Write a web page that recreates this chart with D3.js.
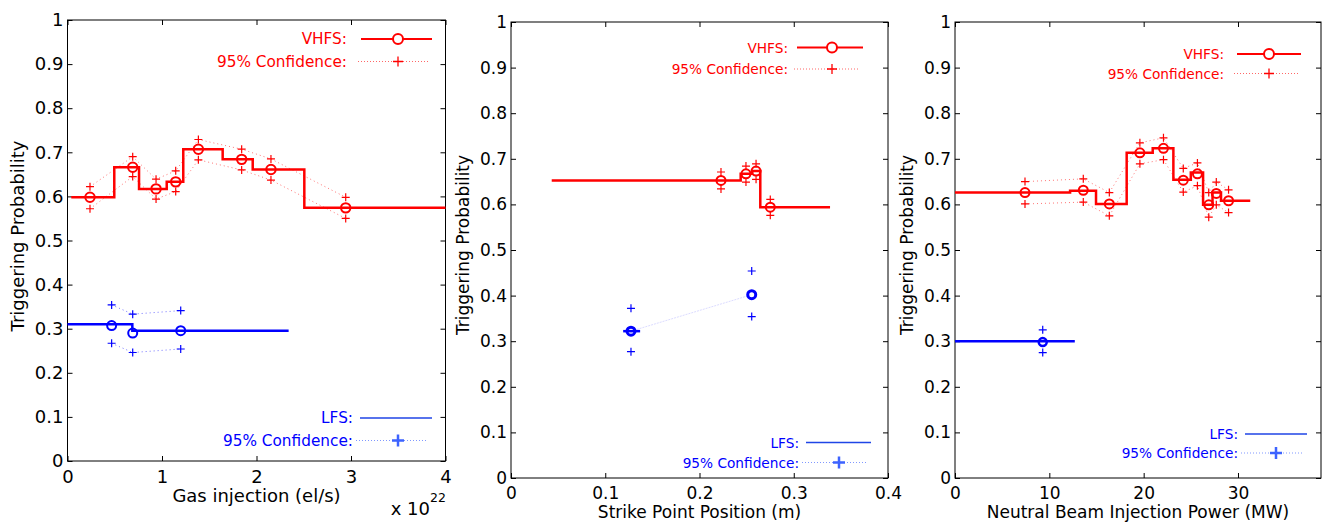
<!DOCTYPE html>
<html>
<head>
<meta charset="utf-8">
<script src="https://cdn.jsdelivr.net/npm/d3@7"></script>
<style>
body { margin: 0; background: #fff; }
svg { font-family: "DejaVu Sans", sans-serif; }
</style>
</head>
<body>
<script>
// ---- panel 1: gas injection (x in units of 1e22 el/s)
var gasStepX = [0.04, 0.495, 0.757, 1.05, 1.225, 1.642, 1.96, 2.506, 4.0];
var gasStepY = [0.598, 0.666, 0.617, 0.633, 0.707, 0.684, 0.661, 0.574];
var gasX  = [0.238, 0.69, 0.937, 1.145, 1.385, 1.843, 2.153, 2.944];
var gasP  = [0.598, 0.666, 0.617, 0.633, 0.707, 0.684, 0.661, 0.574];
var gasHi = [0.622, 0.690, 0.639, 0.658, 0.729, 0.707, 0.685, 0.598];
var gasLo = [0.572, 0.645, 0.594, 0.611, 0.683, 0.660, 0.637, 0.550];
var gasLfsStepX = [0, 0.686, 2.34];
var gasLfsStepY = [0.31, 0.2955];
var gasLfsX  = [0.467, 0.69, 1.198];
var gasLfsP  = [0.307, 0.29, 0.2955];
var gasLfsHi = [0.354, 0.333, 0.341];
var gasLfsLo = [0.267, 0.246, 0.254];

// ---- panel 2: strike point position (m)
var spStepX = [0.0432, 0.2437, 0.256, 0.2645, 0.3385];
var spStepY = [0.6525, 0.667, 0.673, 0.594];
var spX  = [0.2228, 0.2493, 0.26, 0.2751];
var spP  = [0.6525, 0.667, 0.673, 0.594];
var spHi = [0.671, 0.684, 0.689, 0.611];
var spLo = [0.634, 0.649, 0.655, 0.576];
var spLfsStepX = [0.119, 0.137];
var spLfsStepY = [0.322];
var spLfsX  = [0.1273, 0.2554];
var spLfsP  = [0.322, 0.402];
var spLfsHi = [0.372, 0.454];
var spLfsLo = [0.277, 0.354];

// ---- panel 3: neutral beam injection power (MW)
var nbStepX = [0, 12.2, 14.95, 18.2, 20.96, 23.15, 25.0, 26.3, 27.3, 28.2, 31.3];
var nbStepY = [0.626, 0.630, 0.601, 0.713, 0.723, 0.654, 0.670, 0.599, 0.626, 0.608];
var nbX  = [7.42, 13.6, 16.36, 19.6, 22.1, 24.2, 25.7, 26.9, 27.7, 29.0];
var nbP  = [0.626, 0.631, 0.601, 0.713, 0.723, 0.653, 0.667, 0.599, 0.624, 0.608];
var nbHi = [0.650, 0.656, 0.626, 0.735, 0.746, 0.679, 0.691, 0.626, 0.649, 0.632];
var nbLo = [0.601, 0.605, 0.575, 0.689, 0.698, 0.627, 0.641, 0.572, 0.599, 0.582];
var nbLfsStepX = [0, 12.7];
var nbLfsStepY = [0.3];
var nbLfsX  = [9.3];
var nbLfsP  = [0.298];
var nbLfsHi = [0.325];
var nbLfsLo = [0.275];

var yTicks = d3.range(0, 1.0001, 0.1);
var gasTicks = [0, 1, 2, 3, 4];
var spTicks = [0, 0.1, 0.2, 0.3, 0.4];
var nbTicks = [0, 10, 20, 30];

var RED = "#ff0000", BLUE = "#0000ff";

var svg = d3.select("body").append("svg").attr("width", 1325).attr("height", 522);

function zip(xs, ys) { return xs.map(function(x, i) { return [x, ys[i]]; }); }

function drawPanel(cfg) {
  var x = d3.scaleLinear().domain(cfg.xdom).range([cfg.left, cfg.right]);
  var y = d3.scaleLinear().domain([0, 1]).range([cfg.bottom, cfg.top]);
  var g = svg.append("g");
  var fs = cfg.fs, lfs = cfg.lfs;

  var fmtY = function(d) { return d3.format("~g")(+d.toFixed(1)); };
  var ax = [
    [d3.axisLeft(y).tickValues(yTicks).tickFormat(fmtY).tickPadding(4), cfg.left, 0],
    [d3.axisRight(y).tickValues(yTicks).tickFormat(""), cfg.right, 0],
    [d3.axisBottom(x).tickValues(cfg.xticks).tickFormat(cfg.xfmt).tickPadding(9), 0, cfg.bottom],
    [d3.axisTop(x).tickValues(cfg.xticks).tickFormat(""), 0, cfg.top]
  ];
  ax.forEach(function(a) {
    var s = g.append("g").attr("transform", "translate(" + a[1] + "," + a[2] + ")")
      .call(a[0].tickSizeInner(-5).tickSizeOuter(0));
    s.select(".domain").remove();
    s.selectAll(".tick line").attr("stroke", "#000");
    s.selectAll(".tick text").attr("font-size", fs).attr("fill", "#000")
      .attr("font-family", "DejaVu Sans");
  });
  g.append("rect").attr("x", cfg.left).attr("y", cfg.top)
    .attr("width", cfg.right - cfg.left).attr("height", cfg.bottom - cfg.top)
    .attr("fill", "none").attr("stroke", "#000").attr("stroke-width", 1);

  g.append("text").attr("transform", "translate(" + cfg.ylabX + "," + cfg.ylabY + ") rotate(-90)")
    .attr("text-anchor", "middle").attr("font-size", fs).text("Triggering Probability");
  g.append("text").attr("x", (cfg.left + cfg.right) / 2).attr("y", cfg.xlabY)
    .attr("text-anchor", "middle").attr("font-size", fs).text(cfg.xlabel);

  var line = d3.line().x(function(d) { return x(d[0]); }).y(function(d) { return y(d[1]); });
  var stairs = d3.line().x(function(d) { return x(d[0]); }).y(function(d) { return y(d[1]); })
    .curve(d3.curveStepAfter);
  var plus = "M-4,0H4M0,-4V4";

  cfg.series.forEach(function(s) {
    if (s.dotted) {
      [s.hi, s.lo].forEach(function(v) {
        g.append("path").attr("d", line(zip(s.x, v))).attr("fill", "none")
          .attr("stroke", s.color).attr("stroke-opacity", 0.55).attr("stroke-width", 1)
          .attr("stroke-dasharray", "1,3");
      });
    }
    if (s.faint) {
      g.append("path").attr("d", line(zip(s.x, s.p))).attr("fill", "none")
        .attr("stroke", "#dcdcff").attr("stroke-width", 1).attr("stroke-dasharray", "2,1");
    }
    var pts = zip(s.stepX.slice(0, s.stepY.length), s.stepY);
    pts.push([s.stepX[s.stepX.length - 1], s.stepY[s.stepY.length - 1]]);
    g.append("path").attr("d", stairs(pts)).attr("fill", "none")
      .attr("stroke", s.color).attr("stroke-width", 2.5);
    g.selectAll(null).data(zip(s.x, s.hi).concat(zip(s.x, s.lo))).enter().append("path")
      .attr("d", plus).attr("transform", function(d) { return "translate(" + x(d[0]) + "," + y(d[1]) + ")"; })
      .attr("stroke", s.color).attr("stroke-width", 1.2).attr("fill", "none");
    g.selectAll(null).data(zip(s.x, s.p)).enter().append("circle")
      .attr("cx", function(d) { return x(d[0]); }).attr("cy", function(d) { return y(d[1]); })
      .attr("r", s.r).attr("fill", "none").attr("stroke", s.color).attr("stroke-width", s.sw);
  });

  // legends
  var L = cfg.legV;
  g.append("text").attr("x", L.tx).attr("y", L.y1 + 5).attr("text-anchor", "end")
    .attr("font-size", lfs).attr("fill", RED).text("VHFS:");
  g.append("line").attr("x1", L.l0).attr("x2", L.l1).attr("y1", L.y1).attr("y2", L.y1)
    .attr("stroke", RED).attr("stroke-width", 2);
  g.append("circle").attr("cx", L.m).attr("cy", L.y1).attr("r", 5).attr("fill", "#fff")
    .attr("stroke", RED).attr("stroke-width", 2);
  g.append("text").attr("x", L.tx).attr("y", L.y2 + 5).attr("text-anchor", "end")
    .attr("font-size", lfs).attr("fill", RED).text("95% Confidence:");
  g.append("line").attr("x1", L.l0 - 3).attr("x2", L.l1 - 3).attr("y1", L.y2).attr("y2", L.y2)
    .attr("stroke", RED).attr("stroke-opacity", 0.6).attr("stroke-width", 1).attr("stroke-dasharray", "1,2");
  g.append("path").attr("d", "M-5,0H5M0,-5V5").attr("transform", "translate(" + L.m + "," + L.y2 + ")")
    .attr("stroke", RED).attr("stroke-width", 1.3);

  var B = cfg.legL;
  g.append("text").attr("x", B.tx).attr("y", B.y1 + 5).attr("text-anchor", "end")
    .attr("font-size", lfs).attr("fill", BLUE).text("LFS:");
  g.append("line").attr("x1", B.l0).attr("x2", B.l1).attr("y1", B.y1).attr("y2", B.y1)
    .attr("stroke", "#1f45e6").attr("stroke-width", 1.6);
  g.append("text").attr("x", B.tx).attr("y", B.y2 + 5).attr("text-anchor", "end")
    .attr("font-size", lfs).attr("fill", BLUE).text("95% Confidence:");
  g.append("line").attr("x1", B.l0 - 4).attr("x2", B.l1 - 4).attr("y1", B.y2).attr("y2", B.y2)
    .attr("stroke", "#4a6cff").attr("stroke-opacity", 0.7).attr("stroke-width", 1).attr("stroke-dasharray", "1,2");
  g.append("path").attr("d", "M-6,0H6M0,-6V6").attr("transform", "translate(" + B.m + "," + B.y2 + ")")
    .attr("stroke", "#3d63ff").attr("stroke-width", 2.5);

  return g;
}

var g1 = drawPanel({
  left: 67.5, right: 445.5, top: 20, bottom: 461, xdom: [0, 4], xticks: gasTicks, fs: 18, lfs: 15.3,
  xfmt: d3.format("d"), xlabel: "Gas injection (el/s)", xlabY: 502, ylabX: 24, ylabY: 236,
  legV: { tx: 347, l0: 361, l1: 432, m: 398, y1: 39, y2: 61.5 },
  legL: { tx: 353, l0: 360, l1: 432, m: 398, y1: 418, y2: 440.5 },
  series: [
    { stepX: gasStepX, stepY: gasStepY, x: gasX, p: gasP, hi: gasHi, lo: gasLo, color: RED, r: 4.7, sw: 2, dotted: true },
    { stepX: gasLfsStepX, stepY: gasLfsStepY, x: gasLfsX, p: gasLfsP, hi: gasLfsHi, lo: gasLfsLo, color: BLUE, r: 4.5, sw: 2, dotted: true }
  ]
});
g1.append("text").attr("x", 430).attr("y", 515).attr("text-anchor", "end").attr("font-size", 18).text("x 10");
g1.append("text").attr("x", 430).attr("y", 502).attr("font-size", 12.5).text("22");

drawPanel({
  left: 511, right: 888, top: 22, bottom: 478, xdom: [0, 0.4], xticks: spTicks, fs: 17, lfs: 13.7,
  xfmt: function(d) { return d3.format("~g")(d); }, xlabel: "Strike Point Position (m)", xlabY: 518, ylabX: 469, ylabY: 245,
  legV: { tx: 788, l0: 797, l1: 863, m: 832, y1: 47.5, y2: 69 },
  legL: { tx: 799, l0: 806, l1: 871, m: 839, y1: 442.5, y2: 462.5 },
  series: [
    { stepX: spStepX, stepY: spStepY, x: spX, p: spP, hi: spHi, lo: spLo, color: RED, r: 4.5, sw: 2, dotted: false },
    { stepX: spLfsStepX, stepY: spLfsStepY, x: spLfsX, p: spLfsP, hi: spLfsHi, lo: spLfsLo, color: BLUE, r: 4, sw: 3, dotted: false, faint: true }
  ]
});

drawPanel({
  left: 955, right: 1321, top: 22, bottom: 478, xdom: [0, 38.8], xticks: nbTicks, fs: 17, lfs: 13.7,
  xfmt: d3.format("d"), xlabel: "Neutral Beam Injection Power  (MW)", xlabY: 518, ylabX: 913, ylabY: 245,
  legV: { tx: 1224, l0: 1237, l1: 1301, m: 1269, y1: 54, y2: 73.5 },
  legL: { tx: 1238, l0: 1245, l1: 1307, m: 1276, y1: 434, y2: 453 },
  series: [
    { stepX: nbStepX, stepY: nbStepY, x: nbX, p: nbP, hi: nbHi, lo: nbLo, color: RED, r: 4.5, sw: 2, dotted: true },
    { stepX: nbLfsStepX, stepY: nbLfsStepY, x: nbLfsX, p: nbLfsP, hi: nbLfsHi, lo: nbLfsLo, color: BLUE, r: 4, sw: 2.5, dotted: false }
  ]
});
</script>
</body>
</html>
